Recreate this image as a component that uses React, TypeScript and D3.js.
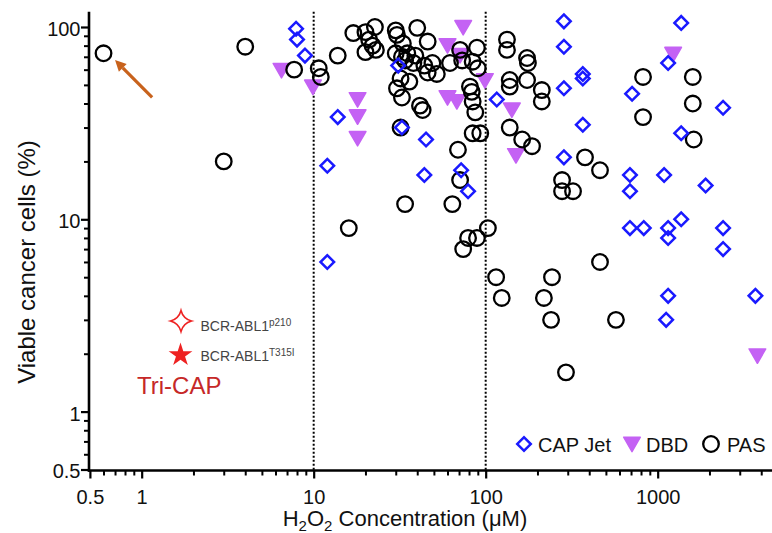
import React, { useEffect, useRef } from 'react';
import * as d3 from 'd3';

const WIDTH = 772;
const HEIGHT = 533;
const FONT = '"Liberation Sans", Arial, sans-serif';

// [H2O2 concentration (µM), viable cancer cells (%)]
const capJet: [number, number][] = [
  [7.9, 98], [8.0, 86], [8.9, 71], [13.8, 34], [12, 19], [12, 6],
  [32.6, 30], [45, 26], [44, 17], [72, 18], [79, 14], [116, 42], [31, 63],
  [285, 107], [285, 79], [367, 57], [367, 54], [285, 48], [367, 31], [285, 21],
  [1370, 105], [1150, 65], [710, 45], [2400, 38], [1370, 28],
  [690, 17], [690, 14], [1090, 17], [1900, 15], [690, 9], [830, 9],
  [1150, 9], [1150, 8], [1370, 10], [2400, 9], [2400, 7],
  [1150, 4], [1120, 3], [3700, 4],
];

const dbd: [number, number][] = [
  [6.5, 61], [9.9, 50], [18, 43], [18, 35], [18, 27], [74, 102], [60, 82],
  [71, 73], [99, 54], [60, 44], [68, 42], [142, 38], [150, 22], [1230, 74],
  [3800, 2],
];

const pas: [number, number][] = [
  [0.6, 73], [4, 79], [3, 20], [7.7, 60], [10.7, 61], [11, 55], [13.8, 71], [16, 9],
  [17, 93], [20, 94], [22.7, 100], [21, 86], [22, 80], [20, 74], [23, 76],
  [30, 96], [30.5, 91], [40, 99], [33, 82], [46, 84], [30, 73], [32.6, 70],
  [35, 73], [34, 67], [39, 71], [44, 63], [49, 65], [46, 58], [52, 57], [38, 65],
  [32, 54], [36, 52], [30.5, 48], [32.6, 43], [41.5, 39], [43, 37], [32, 30], [34, 12],
  [62, 65], [71, 76], [73, 67], [89, 78], [84, 66], [90, 61], [81, 49], [83, 46],
  [84, 41], [87, 36], [84, 28], [93, 28], [69, 23], [71, 16], [64, 12], [103, 9],
  [79, 8], [89, 8], [74, 7],
  [133, 86], [133, 76], [174, 69], [176, 65], [138, 53], [138, 49], [174, 53],
  [212, 47], [212, 41], [138, 30], [163, 26], [186, 24], [378, 21], [462, 18],
  [278, 16], [278, 14], [322, 14], [822, 55], [822, 34], [1600, 55], [1600, 40],
  [1620, 26], [462, 6], [115, 5], [124, 3.9], [243, 5], [218, 3.9], [240, 3],
  [572, 3], [293, 1.6],
];

const xTicks = [0.5, 1, 10, 100, 1000];
const xMinor = [0.6, 0.7, 0.8, 0.9, 2, 3, 4, 5, 6, 7, 8, 9, 20, 30, 40, 50, 60, 70, 80, 90,
  200, 300, 400, 500, 600, 700, 800, 900, 2000, 3000, 4000];
const yTicks = [0.5, 1, 10, 100];
const yMinor = [0.6, 0.7, 0.8, 0.9, 2, 3, 4, 5, 6, 7, 8, 9, 20, 30, 40, 50, 60, 70, 80, 90];
const guides = [10, 100];

// arrow pointing at the Tri-CAP point: [tail, tip]
const arrow: [number, number][] = [[1.15, 43], [0.7, 67.3]];

const BLUE = '#1a1aff';
const PURPLE = '#c462f4';
const RED = '#ee2222';

export default function App() {
  const ref = useRef<SVGSVGElement>(null);

  useEffect(() => {
    const svg = d3.select(ref.current);
    svg.selectAll('*').remove();

    const x = d3.scaleLog().domain([0.5, 4620]).range([89.9, 772]);
    const y = d3.scaleLog().domain([0.5, 100]).range([469.5, 27]);
    const x0 = 89;
    const y0 = 470.5;

    // dotted reference lines
    svg.append('g')
      .selectAll('line')
      .data(guides)
      .enter()
      .append('line')
      .attr('x1', d => x(d))
      .attr('x2', d => x(d))
      .attr('y1', y(120))
      .attr('y2', y0)
      .attr('stroke', '#000')
      .attr('stroke-width', 2)
      .attr('stroke-dasharray', '2,2');

    // x axis
    const gxMinor = svg.append('g').attr('transform', `translate(0,${y0})`)
      .call(d3.axisBottom(x).tickValues(xMinor).tickSize(5).tickFormat(() => ''));
    gxMinor.select('.domain').remove();
    gxMinor.selectAll('line').attr('stroke-width', 2);

    const gx = svg.append('g').attr('transform', `translate(0,${y0})`)
      .call(d3.axisBottom(x).tickValues(xTicks).tickSize(8).tickPadding(11).tickFormat(d => String(d)));
    gx.select('.domain').remove();
    gx.selectAll('line').attr('stroke-width', 2.2);
    gx.attr('font-size', 20).attr('font-family', FONT);
    gx.selectAll('text').attr('fill', '#111');

    // y axis
    const gyMinor = svg.append('g').attr('transform', `translate(${x0},0)`)
      .call(d3.axisLeft(y).tickValues(yMinor).tickSize(5).tickFormat(() => ''));
    gyMinor.select('.domain').remove();
    gyMinor.selectAll('line').attr('stroke-width', 2);

    const gy = svg.append('g').attr('transform', `translate(${x0},0)`)
      .call(d3.axisLeft(y).tickValues(yTicks).tickSize(8).tickPadding(0.5).tickFormat(d => String(d)));
    gy.select('.domain').remove();
    gy.selectAll('line').attr('stroke-width', 2.2);
    gy.attr('font-size', 20).attr('font-family', FONT);
    gy.selectAll('text').attr('fill', '#111').attr('dy', '0.42em');

    svg.append('line')
      .attr('x1', x0).attr('x2', x0)
      .attr('y1', y(120)).attr('y2', y0 + 1.2)
      .attr('stroke', '#000').attr('stroke-width', 2.6);
    svg.append('line')
      .attr('x1', x0 - 1.2).attr('x2', WIDTH)
      .attr('y1', y0).attr('y2', y0)
      .attr('stroke', '#000').attr('stroke-width', 2.6);

    // markers
    const tri = d3.symbol().type(d3.symbolTriangle).size(120);
    const dia = d3.symbol().type(d3.symbolSquare).size(92);

    svg.append('g')
      .selectAll('path')
      .data(dbd)
      .enter()
      .append('path')
      .attr('d', tri)
      .attr('transform', d => `translate(${x(d[0])},${y(d[1])}) rotate(180)`)
      .attr('fill', PURPLE)
      .attr('stroke', PURPLE)
      .attr('stroke-width', 1.5)
      .attr('stroke-linejoin', 'round');

    svg.append('g')
      .selectAll('circle')
      .data(pas)
      .enter()
      .append('circle')
      .attr('cx', d => x(d[0]))
      .attr('cy', d => y(d[1]))
      .attr('r', 7.8)
      .attr('fill', 'none')
      .attr('stroke', '#000')
      .attr('stroke-width', 2.3);

    svg.append('g')
      .selectAll('path')
      .data(capJet)
      .enter()
      .append('path')
      .attr('d', dia)
      .attr('transform', d => `translate(${x(d[0])},${y(d[1])}) rotate(45)`)
      .attr('fill', 'none')
      .attr('stroke', BLUE)
      .attr('stroke-width', 2.5);

    // arrow
    const ARROW = '#c8621c';
    const [tail, tip] = arrow;
    const tx = x(tail[0]), ty = y(tail[1]), hx = x(tip[0]), hy = y(tip[1]);
    const ang = Math.atan2(hy - ty, hx - tx);
    const hl = 11, hw = 5.5;
    const bx = hx - hl * Math.cos(ang), by = hy - hl * Math.sin(ang);
    svg.append('line')
      .attr('x1', tx).attr('y1', ty).attr('x2', bx).attr('y2', by)
      .attr('stroke', ARROW).attr('stroke-width', 3.2);
    svg.append('path')
      .attr('d', `M${hx},${hy}L${bx - hw * Math.sin(ang)},${by + hw * Math.cos(ang)}L${bx + hw * Math.sin(ang)},${by - hw * Math.cos(ang)}Z`)
      .attr('fill', ARROW);

    // Tri-CAP inset legend
    const R = 10.5, c = 2.2;
    svg.append('path')
      .attr('d', `M0,${-R}Q${c},${-c} ${R},0Q${c},${c} 0,${R}Q${-c},${c} ${-R},0Q${-c},${-c} 0,${-R}Z`)
      .attr('transform', 'translate(181,321)')
      .attr('fill', '#fff')
      .attr('stroke', RED)
      .attr('stroke-width', 1.6);
    svg.append('path')
      .attr('d', d3.symbol().type(d3.symbolStar).size(175)())
      .attr('transform', 'translate(180.5,355)')
      .attr('fill', RED);

    const insetLabels: [string, number][] = [['p210', 331], ['T315I', 361]];
    insetLabels.forEach(([sup, base]) => {
      const t = svg.append('text')
        .attr('x', 200.5).attr('y', base)
        .attr('font-family', FONT).attr('font-size', 14).attr('fill', '#444');
      t.append('tspan').text('BCR-ABL1');
      t.append('tspan').attr('font-size', 10).attr('dy', -5).text(sup);
    });
    svg.append('text')
      .attr('x', 137).attr('y', 394)
      .attr('font-family', FONT).attr('font-size', 24).attr('fill', '#c62828')
      .text('Tri-CAP');

    // bottom-right legend
    const lg = svg.append('g').attr('font-family', FONT).attr('font-size', 20).attr('fill', '#111');
    lg.append('path').attr('d', dia).attr('transform', 'translate(524,444) rotate(45)')
      .attr('fill', 'none').attr('stroke', BLUE).attr('stroke-width', 2.5);
    lg.append('text').attr('x', 538).attr('y', 452).text('CAP Jet');
    lg.append('path').attr('d', tri).attr('transform', 'translate(632,442) rotate(180)')
      .attr('fill', PURPLE).attr('stroke', PURPLE).attr('stroke-width', 1.5).attr('stroke-linejoin', 'round');
    lg.append('text').attr('x', 646).attr('y', 452).text('DBD');
    lg.append('circle').attr('cx', 711).attr('cy', 444).attr('r', 7.8)
      .attr('fill', 'none').attr('stroke', '#000').attr('stroke-width', 2.3);
    lg.append('text').attr('x', 727).attr('y', 452).text('PAS');

    // axis titles
    const xt = svg.append('text')
      .attr('x', 405).attr('y', 526)
      .attr('text-anchor', 'middle')
      .attr('font-family', FONT).attr('font-size', 22).attr('fill', '#111');
    xt.append('tspan').text('H');
    xt.append('tspan').attr('font-size', 15).attr('dy', 5).text('2');
    xt.append('tspan').attr('dy', -5).text('O');
    xt.append('tspan').attr('font-size', 15).attr('dy', 5).text('2');
    xt.append('tspan').attr('dy', -5).text(' Concentration (μM)');

    svg.append('text')
      .attr('transform', 'translate(35,262) rotate(-90)')
      .attr('text-anchor', 'middle')
      .attr('font-family', FONT).attr('font-size', 24).attr('fill', '#111')
      .text('Viable cancer cells (%)');
  }, []);

  return (
    <svg
      ref={ref}
      width={WIDTH}
      height={HEIGHT}
      style={{ position: 'absolute', left: 0, top: 0, background: '#fff' }}
    />
  );
}
